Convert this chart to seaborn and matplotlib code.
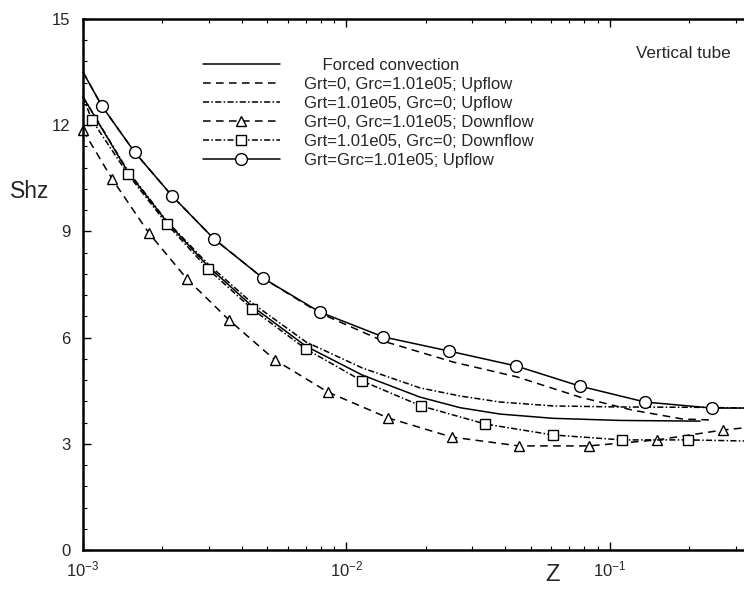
import matplotlib
matplotlib.use("Agg")
import matplotlib.pyplot as plt
import seaborn as sns
import pandas as pd
from matplotlib.ticker import MultipleLocator, LogLocator, LogFormatterSciNotation, NullFormatter

# ---------------- data ----------------
z_forced = [1.0e-3, 1.48e-3, 2.08e-3, 2.98e-3, 4.38e-3, 7.01e-3, 1.15e-2, 1.90e-2, 2.70e-2, 3.83e-2, 6.08e-2, 0.109, 0.220]
sh_forced = [12.80, 10.68, 9.27, 8.02, 6.89, 5.76, 4.94, 4.32, 4.02, 3.84, 3.72, 3.66, 3.64]

z_grc_up = [1.0e-3, 1.18e-3, 1.57e-3, 2.18e-3, 3.14e-3, 4.82e-3, 7.93e-3, 1.38e-2, 2.54e-2, 4.44e-2, 7.69e-2, 0.122, 0.189, 0.246]
sh_grc_up = [13.50, 12.54, 11.24, 10.00, 8.79, 7.68, 6.69, 5.90, 5.31, 4.89, 4.32, 3.95, 3.70, 3.67]

z_grt_up = [1.0e-3, 1.48e-3, 2.08e-3, 2.98e-3, 4.38e-3, 7.01e-3, 1.15e-2, 1.90e-2, 2.70e-2, 3.83e-2, 6.08e-2, 0.109, 0.220, 0.323]
sh_grt_up = [12.80, 10.71, 9.29, 8.08, 6.98, 5.88, 5.14, 4.58, 4.35, 4.18, 4.07, 4.04, 4.03, 4.01]

z_grc_down = [1.0e-3, 1.29e-3, 1.78e-3, 2.48e-3, 3.58e-3, 5.35e-3, 8.51e-3, 1.44e-2, 2.51e-2, 4.52e-2, 8.32e-2, 0.151, 0.269, 0.323]
sh_grc_down = [11.86, 10.48, 8.95, 7.66, 6.50, 5.37, 4.46, 3.73, 3.19, 2.94, 2.94, 3.11, 3.39, 3.45]

z_grt_down = [1.0e-3, 1.08e-3, 1.48e-3, 2.08e-3, 2.98e-3, 4.38e-3, 7.01e-3, 1.15e-2, 1.92e-2, 3.36e-2, 6.08e-2, 0.111, 0.198, 0.323]
sh_grt_down = [12.80, 12.15, 10.62, 9.21, 7.94, 6.81, 5.68, 4.77, 4.07, 3.56, 3.25, 3.11, 3.11, 3.08]

z_both_up = [1.0e-3, 1.18e-3, 1.57e-3, 2.18e-3, 3.14e-3, 4.82e-3, 7.93e-3, 1.38e-2, 2.45e-2, 4.40e-2, 7.69e-2, 0.136, 0.244, 0.323]
sh_both_up = [13.50, 12.54, 11.24, 10.00, 8.79, 7.68, 6.72, 6.02, 5.62, 5.20, 4.63, 4.18, 4.01, 4.01]

labels = [
    "    Forced convection",
    "Grt=0, Grc=1.01e05; Upflow",
    "Grt=1.01e05, Grc=0; Upflow",
    "Grt=0, Grc=1.01e05; Downflow",
    "Grt=1.01e05, Grc=0; Downflow",
    "Grt=Grc=1.01e05; Upflow",
]
x_ticks = [1e-3, 1e-2, 1e-1]
y_ticks = [0, 3, 6, 9, 12, 15]

# ---------------- style ----------------
sns.set_style("ticks")
FONT = ["Liberation Sans", "DejaVu Sans"]
plt.rcParams["font.family"] = FONT
plt.rcParams["mathtext.fontset"] = "custom"
plt.rcParams["mathtext.rm"] = "Liberation Sans"
plt.rcParams["mathtext.it"] = "Liberation Sans:italic"
plt.rcParams["mathtext.bf"] = "Liberation Sans:bold"

W, H = 744, 589
fig = plt.figure(figsize=(W / 100, H / 100), dpi=100)
fig.patch.set_facecolor("white")
ax = fig.add_axes([83 / W, 1 - 550 / H, 1 - 83 / W, (550 - 19) / H])
ax.set_facecolor("white")

common = dict(color="black", lw=1.1, estimator=None, sort=False, clip_on=False,
              markeredgecolor="black", markerfacecolor="white", markeredgewidth=1.0)

series = [
    (z_forced, sh_forced, dict(linestyle="-", marker=None)),
    (z_grc_up, sh_grc_up, dict(linestyle=(0, (5, 3.5)), marker=None)),
    (z_grt_up, sh_grt_up, dict(linestyle=(0, (4, 1.5, 1, 1.5)), marker=None)),
    (z_grc_down, sh_grc_down, dict(linestyle=(0, (5, 3.5)), marker="^", markersize=7,
                                   markevery=list(range(0, 13)))),
    (z_grt_down, sh_grt_down, dict(linestyle=(0, (4, 1.5, 1, 1.5)), marker="s", markersize=6.5,
                                   markevery=list(range(1, 13)))),
    (z_both_up, sh_both_up, dict(linestyle="-", marker="o", markersize=8.5,
                                 markevery=list(range(1, 13)))),
]

for (zz, ss, st), lab in zip(series, labels):
    df = pd.DataFrame({"Z": zz, "Shz": ss})
    kw = dict(common)
    kw.update(st)
    sns.lineplot(data=df, x="Z", y="Shz", ax=ax, label=lab, **kw)

ax.set_xscale("log")
ax.set_xlim(1e-3, 10 ** -0.491)
ax.set_ylim(0, 15)
ax.set_xlabel("")
ax.set_ylabel("")

ax.xaxis.set_major_locator(LogLocator(base=10, numticks=10))
ax.xaxis.set_minor_locator(LogLocator(base=10, subs=range(2, 10), numticks=20))
ax.xaxis.set_minor_formatter(NullFormatter())
ax.xaxis.set_major_formatter(LogFormatterSciNotation())
ax.set_xticks(x_ticks)
ax.set_yticks(y_ticks)
ax.yaxis.set_minor_locator(MultipleLocator(0.6))

ax.tick_params(which="both", direction="in", top=True, right=False, bottom=True, left=True,
               color="black", labelsize=12)
ax.tick_params(which="major", length=6, width=1.0)
ax.tick_params(which="minor", length=3, width=0.8)
ax.tick_params(axis="x", pad=7)
ax.tick_params(axis="y", pad=9)
for sp in ["left", "bottom", "top"]:
    ax.spines[sp].set_linewidth(1.8)
    ax.spines[sp].set_color("black")
ax.spines["right"].set_visible(False)

leg = ax.legend(loc="upper left", bbox_to_anchor=(203 / W, 1 - 58 / H),
                bbox_transform=fig.transFigure, frameon=False, borderpad=0,
                borderaxespad=0, handlelength=4.6, handletextpad=1.45,
                labelspacing=0.24, numpoints=1,
                prop={"family": FONT, "size": 12})

fig.text(636 / W, 1 - 53 / H, "Vertical tube", fontsize=12.3, ha="left", va="center")
fig.text(30 / W, 1 - 192 / H, "Shz", fontsize=16.5, ha="center", va="center")
fig.text(553 / W, 1 - 575 / H, "Z", fontsize=17, ha="center", va="center")

fig.savefig("out.png", dpi=100, facecolor="white")
